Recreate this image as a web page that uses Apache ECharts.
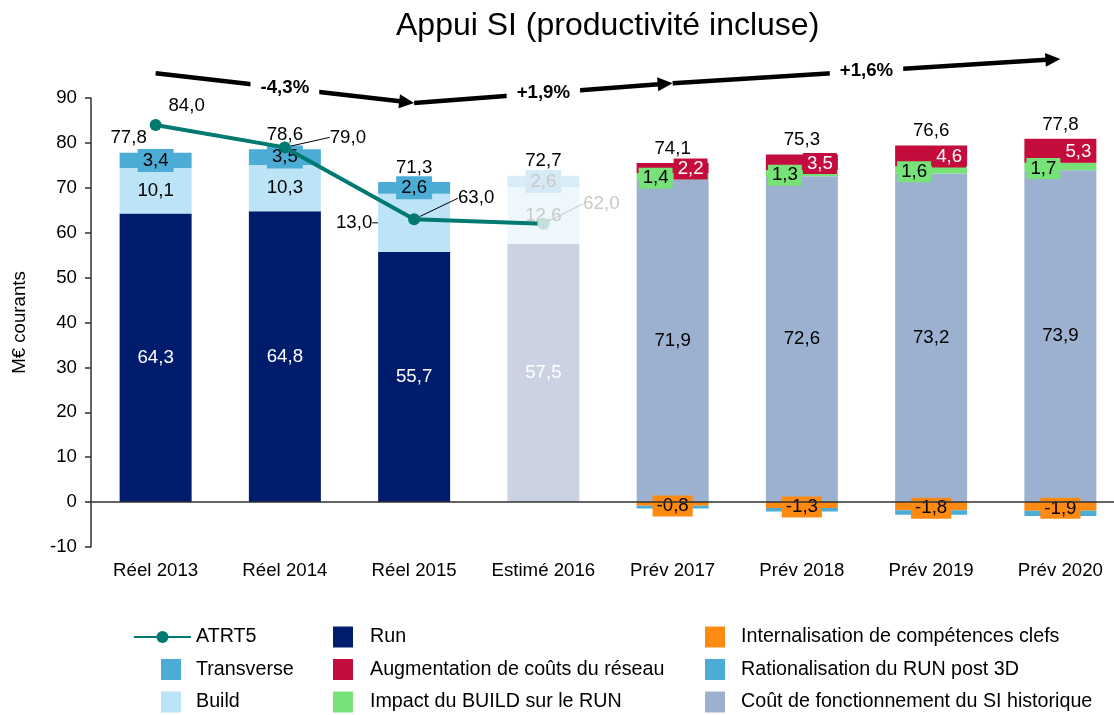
<!DOCTYPE html>
<html>
<head>
<meta charset="utf-8">
<title>Appui SI (productivité incluse)</title>
<script src="https://cdn.jsdelivr.net/npm/echarts@6/dist/echarts.min.js"></script>
<style>
  html, body { margin: 0; padding: 0; background: #ffffff; }
  #chart { width: 1114px; height: 715px; }
</style>
</head>
<body>
<div id="chart"></div>
<script>
// ---- Data (M€ courants) ----
const categories = ['Réel 2013', 'Réel 2014', 'Réel 2015', 'Estimé 2016', 'Prév 2017', 'Prév 2018', 'Prév 2019', 'Prév 2020'];

const runValues             = [64.3, 64.8, 55.7, 57.5, '-', '-', '-', '-'];
const buildValues           = [10.1, 10.3, 13.0, 12.6, '-', '-', '-', '-'];
const transverseValues      = [3.4, 3.5, 2.6, 2.6, '-', '-', '-', '-'];
const historiqueValues      = ['-', '-', '-', '-', 71.9, 72.6, 73.2, 73.9];
const impactBuildValues     = ['-', '-', '-', '-', 1.4, 1.3, 1.6, 1.7];
const reseauValues          = ['-', '-', '-', '-', 2.2, 3.5, 4.6, 5.3];
const internalisationValues = ['-', '-', '-', '-', -0.8, -1.3, -1.8, -1.9];
const rationalisationValues = ['-', '-', '-', '-', -0.6, -0.8, -1.0, -1.2];
const totalValues           = [77.8, 78.6, 71.3, 72.7, 74.1, 75.3, 76.6, 77.8];
const atrt5Values           = [84.0, 79.0, 63.0, 62.0, '-', '-', '-', '-'];

const yMin = -10, yMax = 90, yInterval = 10;

// Average annual growth arrows drawn above the columns
const growthFrom      = ['Réel 2013', 'Réel 2015', 'Prév 2017'];
const growthTo        = ['Réel 2015', 'Prév 2017', 'Prév 2020'];
const growthFromLevel = [95.5, 88.9, 93.3];
const growthToLevel   = [88.9, 93.3, 98.7];
const growthLabels    = ['-4,3%', '+1,9%', '+1,6%'];

// ---- Styling ----
const FONT = '"Liberation Sans", Arial, Helvetica, sans-serif';
const FS = 18.67;
const LEGEND_FS = 19.7;
const COLORS = {
  run: '#001c6c',
  build: '#bde3f6',
  transverse: '#4badd6',
  historique: '#9cb0cf',
  impact: '#77e277',
  reseau: '#c40d3c',
  internalisation: '#ff8a12',
  rationalisation: '#4badd6',
  atrt5: '#007a70'
};
const FADED = { run: '#cbd3e3', build: '#eef7fc', transverse: '#d9edf7', text: '#c8c8c8', atrt5: '#c3dfdb' };

const est = categories.indexOf('Estimé 2016');
const reel2015 = categories.indexOf('Réel 2015');
const fadeFrom = 2.64;             // line turns pale from here (category units)
const BAR_W = 72;

const fmt = v => Number(v).toFixed(1).replace('.', ',');
const mapData = (values, fn) => values.map((v, i) => (v === '-' ? '-' : fn(v, i)));

const baseLabel = {
  show: true, position: 'inside', fontFamily: FONT, fontSize: FS, color: '#000',
  formatter: p => fmt(p.value)
};

// label shifts (px) for the ATRT5 values, relative to each point
const atrtLabelShift = [[31, -19], [63, -10], [62, -21], [58, -20]];

const chart = echarts.init(document.getElementById('chart'), null, { renderer: 'canvas' });

const series = [
  {
    name: 'Run', type: 'bar', stack: 'pile', barWidth: BAR_W,
    itemStyle: { color: COLORS.run },
    label: Object.assign({}, baseLabel, { color: '#ffffff' }),
    data: mapData(runValues, (v, i) => i === est ? { value: v, itemStyle: { color: FADED.run } } : v)
  },
  {
    name: 'Build', type: 'bar', stack: 'pile', barWidth: BAR_W,
    itemStyle: { color: COLORS.build },
    label: baseLabel,
    labelLayout: p => (p.dataIndex === reel2015 ? { dx: -60 } : {}),
    data: mapData(buildValues, (v, i) => {
      if (i === est) return { value: v, itemStyle: { color: FADED.build }, label: { color: FADED.text } };
      if (i === reel2015) return { value: v, labelLine: { show: true, lineStyle: { color: '#000', width: 1 } } };
      return v;
    })
  },
  {
    name: 'Transverse', type: 'bar', stack: 'pile', barWidth: BAR_W,
    itemStyle: { color: COLORS.transverse },
    label: Object.assign({}, baseLabel, { backgroundColor: COLORS.transverse, padding: [2, 5] }),
    data: mapData(transverseValues, (v, i) => i === est
      ? { value: v, itemStyle: { color: FADED.transverse }, label: { color: FADED.text, backgroundColor: '#d5eaf5' } }
      : v)
  },
  {
    name: 'Coût de fonctionnement du SI historique', type: 'bar', stack: 'pile', barWidth: BAR_W,
    itemStyle: { color: COLORS.historique },
    label: baseLabel,
    data: historiqueValues
  },
  {
    name: 'Impact du BUILD sur le RUN', type: 'bar', stack: 'pile', barWidth: BAR_W,
    itemStyle: { color: COLORS.impact },
    label: Object.assign({}, baseLabel, { backgroundColor: COLORS.impact, padding: [1, 4], offset: [-17, 2] }),
    data: impactBuildValues
  },
  {
    name: 'Augmentation de coûts du réseau', type: 'bar', stack: 'pile', barWidth: BAR_W,
    itemStyle: { color: COLORS.reseau },
    label: Object.assign({}, baseLabel, { color: '#ffffff', backgroundColor: COLORS.reseau, padding: [1, 4], offset: [18, 1] }),
    data: reseauValues
  },
  {
    // zero-height cap carrying the column total above the positive stack
    name: 'Total', type: 'bar', stack: 'pile', barWidth: BAR_W, silent: true,
    itemStyle: { color: 'rgba(0,0,0,0)' },
    label: {
      show: true, position: 'top', distance: 5, fontFamily: FONT, fontSize: FS, color: '#000',
      formatter: p => fmt(totalValues[p.dataIndex])
    },
    data: totalValues.map((t, i) => (i === 0 ? { value: 0, label: { offset: [-27, 0] } } : 0))
  },
  {
    name: 'Internalisation de compétences clefs', type: 'bar', stack: 'pile', barWidth: BAR_W,
    itemStyle: { color: COLORS.internalisation },
    label: Object.assign({}, baseLabel, { backgroundColor: COLORS.internalisation, padding: [1, 4], offset: [0, 2] }),
    data: internalisationValues
  },
  {
    name: 'Rationalisation du RUN post 3D', type: 'bar', stack: 'pile', barWidth: BAR_W,
    itemStyle: { color: COLORS.rationalisation },
    label: { show: false },
    markLine: {
      silent: true, symbol: 'none', label: { show: false },
      lineStyle: { color: '#303030', width: 1.5, type: 'solid' },
      data: [{ yAxis: 0 }]
    },
    data: rationalisationValues
  },
  {
    name: 'ATRT5', type: 'line', z: 4,
    symbol: 'circle', symbolSize: 12,
    lineStyle: { color: COLORS.atrt5, width: 4 },
    itemStyle: { color: COLORS.atrt5 },
    label: { show: true, position: 'inside', fontFamily: FONT, fontSize: FS, color: '#000', formatter: p => fmt(p.value) },
    labelLayout: p => {
      const s = atrtLabelShift[p.dataIndex];
      return s ? { dx: s[0], dy: s[1] } : {};
    },
    data: mapData(atrt5Values, (v, i) => {
      const item = { value: v };
      if (i === est) item.label = { color: FADED.text };
      if (i > 0) item.labelLine = { show: true, lineStyle: { color: i === est ? FADED.text : '#000', width: 1 } };
      return item;
    })
  },
  {
    name: 'growth', type: 'custom', coordinateSystem: 'cartesian2d', clip: false, silent: true, z: 6,
    encode: { x: [0, 2], y: [1, 3] },
    data: growthLabels.map((t, i) => [
      categories.indexOf(growthFrom[i]), growthFromLevel[i],
      categories.indexOf(growthTo[i]), growthToLevel[i]
    ]),
    renderItem: function (params, api) {
      const a = api.coord([api.value(0), api.value(1)]);
      const b = api.coord([api.value(2), api.value(3)]);
      const dx = b[0] - a[0], dy = b[1] - a[1];
      const len = Math.sqrt(dx * dx + dy * dy);
      const ux = dx / len, uy = dy / len;
      const headLen = 15, headHalf = 7;
      const base = [b[0] - ux * headLen, b[1] - uy * headLen];
      const mid = [(a[0] + b[0]) / 2, (a[1] + b[1]) / 2];
      return {
        type: 'group',
        children: [
          { type: 'line', shape: { x1: a[0], y1: a[1], x2: base[0] + ux, y2: base[1] + uy },
            style: { stroke: '#000', lineWidth: 4.5 } },
          { type: 'polygon',
            shape: { points: [[b[0], b[1]], [base[0] - uy * headHalf, base[1] + ux * headHalf], [base[0] + uy * headHalf, base[1] - ux * headHalf]] },
            style: { fill: '#000' } },
          { type: 'text', x: mid[0], y: mid[1],
            style: { text: growthLabels[params.dataIndex], font: 'bold ' + FS + 'px ' + FONT, fill: '#000',
                     align: 'center', verticalAlign: 'middle', backgroundColor: '#fff', padding: [2, 10] } }
        ]
      };
    }
  }
];

const lineIndex = series.findIndex(s => s.name === 'ATRT5');

const legendText = { fontFamily: FONT, fontSize: LEGEND_FS, color: '#000', lineHeight: 21 };
const squareLegend = (names, left, top, textPad) => ({
  data: names, left: left, top: top, orient: 'vertical', padding: 0,
  itemWidth: 20, itemHeight: 21, itemGap: 11.5, icon: 'rect', selectedMode: false,
  textStyle: Object.assign({}, legendText, { padding: [0, 0, 0, textPad] })
});

const option = {
  animation: false,
  backgroundColor: '#ffffff',
  title: {
    text: 'Appui SI (productivité incluse)', left: 396, top: 10, padding: 0,
    textStyle: { fontFamily: FONT, fontSize: 32, fontWeight: 'normal', color: '#000' }
  },
  // the last column's band runs slightly past the right edge of the canvas
  grid: { left: 91, top: 98, width: 1034, height: 449, containLabel: false, outerBoundsMode: 'none' },
  xAxis: {
    type: 'category', data: categories,
    axisLine: { show: false, onZero: false },
    axisTick: { show: false },
    axisLabel: { interval: 0, margin: 14, fontFamily: FONT, fontSize: FS, color: '#000' }
  },
  yAxis: {
    type: 'value', min: yMin, max: yMax, interval: yInterval,
    axisLine: { show: true, lineStyle: { color: '#303030', width: 1.5 } },
    axisTick: { show: true, length: 6, lineStyle: { color: '#303030', width: 1.5 } },
    splitLine: { show: false },
    axisLabel: { margin: 14, fontFamily: FONT, fontSize: FS, color: '#000' },
    name: 'M€ courants', nameLocation: 'middle', nameGap: 62,
    nameTextStyle: { fontFamily: FONT, fontSize: FS, color: '#000' }
  },
  visualMap: {
    type: 'piecewise', show: false, seriesIndex: lineIndex, dimension: 0,
    pieces: [
      { gte: -1, lte: fadeFrom, color: COLORS.atrt5 },
      { gt: fadeFrom, lte: categories.length, color: FADED.atrt5 }
    ]
  },
  legend: [
    {
      data: ['ATRT5'], left: 133, top: 626.5, padding: 0, selectedMode: false,
      itemWidth: 57, itemHeight: 15, textStyle: legendText
    },
    squareLegend(['Transverse', 'Build'], 161, 659, 10),
    squareLegend(['Run', 'Augmentation de coûts du réseau', 'Impact du BUILD sur le RUN'], 333, 626.5, 12),
    squareLegend(['Internalisation de compétences clefs', 'Rationalisation du RUN post 3D', 'Coût de fonctionnement du SI historique'], 705, 626.5, 11)
  ],
  series: series
};

chart.setOption(option);
</script>
</body>
</html>
